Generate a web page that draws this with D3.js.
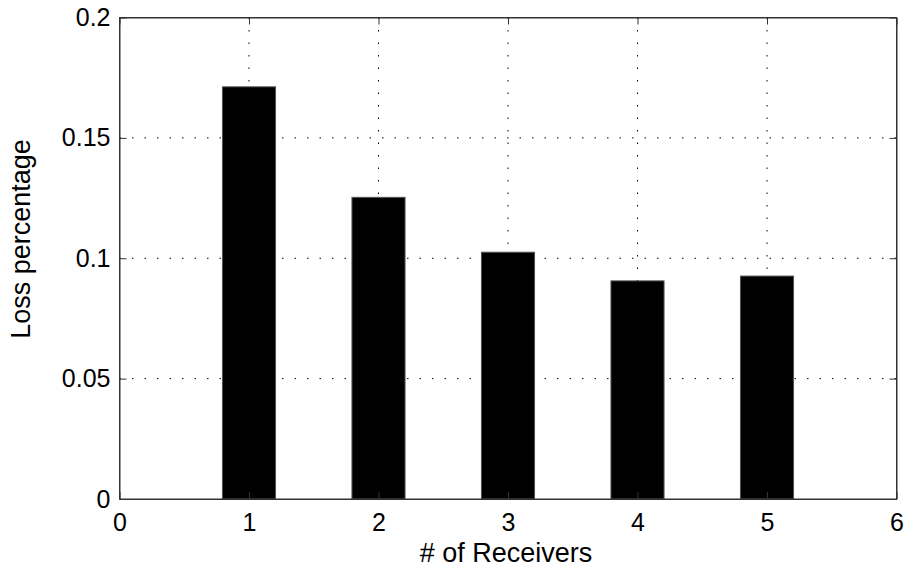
<!DOCTYPE html>
<html>
<head>
<meta charset="utf-8">
<script src="https://cdn.jsdelivr.net/npm/d3@7"></script>
<style>
body { margin: 0; background: #fff; }
text { font-family: "Liberation Sans", Arial, sans-serif; }
</style>
</head>
<body>
<svg width="904" height="569"></svg>
<script>
const receivers = [1, 2, 3, 4, 5]
const loss = [0.1712, 0.1253, 0.1025, 0.0906, 0.0926]
const xTicks = [0, 1, 2, 3, 4, 5, 6]
const yTicks = [0, 0.05, 0.1, 0.15, 0.2]

const svg = d3.select('svg')
const margin = {top: 17.5, left: 119.5}

const xScale = d3.scaleLinear().domain([0, 6]).range([0, 777])
const yScale = d3.scaleLinear().domain([0, 0.2]).range([481.5, 0])
const barWidth = 0.41

const g = svg.append('g')
	.attr('transform', `translate(${margin.left}, ${margin.top})`)

// dotted grid
g.append('g').selectAll('line')
	.data(xTicks.slice(1, -1))
	.enter().append('line')
	.attr('x1', d => xScale(d)).attr('x2', d => xScale(d))
	.attr('y1', 0).attr('y2', yScale(0))
	.attr('stroke', '#000')
	.attr('stroke-dasharray', '1.5,11')

g.append('g').selectAll('line')
	.data(yTicks.slice(1, -1))
	.enter().append('line')
	.attr('x1', 0).attr('x2', xScale(6))
	.attr('y1', d => yScale(d)).attr('y2', d => yScale(d))
	.attr('stroke', '#000')
	.attr('stroke-dasharray', '1.5,11')

// bars
g.selectAll('.bar')
	.data(receivers)
	.enter().append('rect')
	.attr('class', 'bar')
	.attr('x', d => xScale(d - barWidth / 2))
	.attr('y', (d, i) => yScale(loss[i]))
	.attr('width', xScale(barWidth) - xScale(0))
	.attr('height', (d, i) => yScale(0) - yScale(loss[i]))
	.attr('fill', '#000')
	.attr('stroke', '#555')
	.attr('stroke-width', 1)

// axes, ticks inward
const xAxis = d3.axisBottom(xScale).tickValues(xTicks).tickSizeInner(-7).tickSizeOuter(0).tickPadding(14)
	.tickFormat(d3.format('d'))
const yAxis = d3.axisLeft(yScale).tickValues(yTicks).tickSizeInner(-7).tickSizeOuter(0).tickPadding(9)
	.tickFormat(d => d === 0 ? '0' : String(+d.toFixed(2)))

g.append('g').attr('transform', `translate(0, ${yScale(0)})`).call(xAxis)
g.append('g').call(yAxis)
g.append('g').call(d3.axisTop(xScale).tickValues(xTicks).tickSizeInner(-7).tickSizeOuter(0).tickFormat(''))
g.append('g').attr('transform', `translate(${xScale(6)}, 0)`)
	.call(d3.axisRight(yScale).tickValues(yTicks).tickSizeInner(-7).tickSizeOuter(0).tickFormat(''))

g.selectAll('.domain, .tick line').attr('stroke', '#333')
g.selectAll('.tick text').attr('font-size', 25).attr('fill', '#000')
	.style('font-family', '"Liberation Sans", Arial, sans-serif')

g.append('rect')
	.attr('x', 0).attr('y', 0)
	.attr('width', xScale(6)).attr('height', yScale(0))
	.attr('fill', 'none').attr('stroke', '#333')

svg.append('text')
	.attr('x', margin.left + xScale(3) - 2)
	.attr('y', 562)
	.attr('text-anchor', 'middle')
	.attr('font-size', 27)
	.text('# of Receivers')

svg.append('text')
	.attr('transform', 'translate(30, 239) rotate(-90)')
	.attr('text-anchor', 'middle')
	.attr('font-size', 27)
	.text('Loss percentage')
</script>
</body>
</html>
